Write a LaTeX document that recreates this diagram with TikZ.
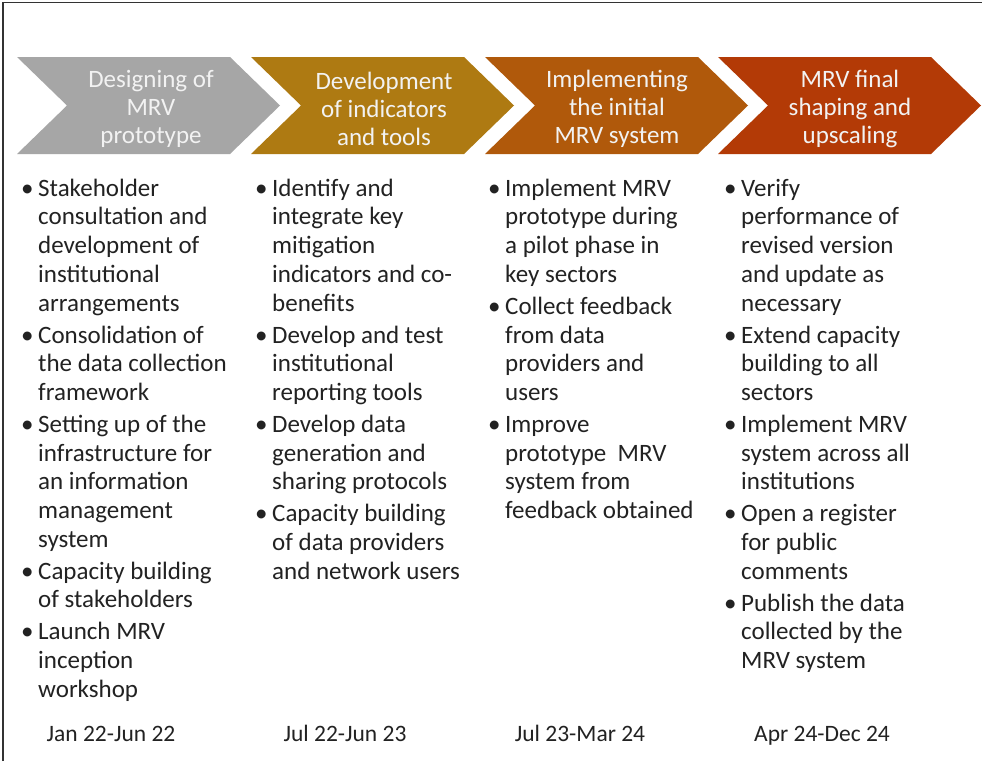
\documentclass[tikz,border=0pt]{standalone}
\usepackage{fontspec}
\setmainfont{Carlito}
\definecolor{cgray}{HTML}{A6A6A6}
\definecolor{cgold}{HTML}{AE7A12}
\definecolor{corange}{HTML}{B0590B}
\definecolor{cred}{HTML}{B33A06}
\definecolor{ttl}{HTML}{F2F2F2}
\definecolor{body}{HTML}{222222}
\tikzset{
  frameline/.style={line width=1.4pt, draw=black!80},
  chevtitle/.style={align=center, text=ttl, inner sep=0pt, font=\fontsize{25}{28}\selectfont},
  bodytext/.style={anchor=north west, inner sep=0pt, text=body, font=\fontsize{25}{28.7}\selectfont},
  datetext/.style={anchor=base, inner sep=0pt, text=body, font=\fontsize{23.5}{25}\selectfont},
}
\newcommand{\bl}{\textbullet}
\begin{document}
\begin{tikzpicture}[x=1pt,y=-1pt]
\useasboundingbox (0,0) rectangle (982,761);
\fill[white] (0,0) rectangle (982,761);
\draw[frameline] (3,761) -- (3,2.5) -- (982,2.5);
% chevrons
\foreach \xo/\col in {17/cgray, 251/cgold, 485/corange, 718/cred}{
  \fill[\col] (\xo,57) -- ({\xo+213},57) -- ({\xo+263},105.5) -- ({\xo+213},154) -- (\xo,154) -- ({\xo+50},105.5) -- cycle;
}
\node[chevtitle] (t1) at (151,109) {Designing of\\MRV\\prototype};
\node[chevtitle] (t2) at (384,109) {Development\\of indicators\\and tools};
\node[chevtitle] (t3) at (617,109) {Implementing\\the initial\\MRV system};
\node[chevtitle] (t4) at (850,109) {MRV final\\shaping and\\upscaling};
% bodies
\node[bodytext] (b1) at (21,176) {\begin{tabular}[t]{@{}p{17pt}@{}l@{}}
\bl & Stakeholder\\
 & consultation and\\
 & development of\\
 & institutional\\
 & arrangements\\[3.3pt]
\bl & Consolidation of\\
 & the data collection\\
 & framework\\[3.3pt]
\bl & Setting up of the\\
 & infrastructure for\\
 & an information\\
 & management\\
 & system\\[3.3pt]
\bl & Capacity building\\
 & of stakeholders\\[3.3pt]
\bl & Launch MRV\\
 & inception\\
 & workshop
\end{tabular}};
\node[bodytext] (b2) at (255,176) {\begin{tabular}[t]{@{}p{17pt}@{}l@{}}
\bl & Identify and\\
 & integrate key\\
 & mitigation\\
 & indicators and co-\\
 & benefits\\[3.3pt]
\bl & Develop and test\\
 & institutional\\
 & reporting tools\\[3.3pt]
\bl & Develop data\\
 & generation and\\
 & sharing protocols\\[3.3pt]
\bl & Capacity building\\
 & of data providers\\
 & and network users
\end{tabular}};
\node[bodytext] (b3) at (488,176) {\begin{tabular}[t]{@{}p{17pt}@{}l@{}}
\bl & Implement MRV\\
 & prototype during\\
 & a pilot phase in\\
 & key sectors\\[3.3pt]
\bl & Collect feedback\\
 & from data\\
 & providers and\\
 & users\\[3.3pt]
\bl & Improve\\
 & prototype\ \ MRV\\
 & system from\\
 & feedback obtained
\end{tabular}};
\node[bodytext] (b4) at (724,176) {\begin{tabular}[t]{@{}p{17pt}@{}l@{}}
\bl & Verify\\
 & performance of\\
 & revised version\\
 & and update as\\
 & necessary\\[3.3pt]
\bl & Extend capacity\\
 & building to all\\
 & sectors\\[3.3pt]
\bl & Implement MRV\\
 & system across all\\
 & institutions\\[3.3pt]
\bl & Open a register\\
 & for public\\
 & comments\\[3.3pt]
\bl & Publish the data\\
 & collected by the\\
 & MRV system
\end{tabular}};
% dates
\node[datetext] (d1) at (111,741) {Jan 22-Jun 22};
\node[datetext] (d2) at (345,741) {Jul 22-Jun 23};
\node[datetext] (d3) at (580,741) {Jul 23-Mar 24};
\node[datetext] (d4) at (822,741) {Apr 24-Dec 24};
\end{tikzpicture}
\end{document}
